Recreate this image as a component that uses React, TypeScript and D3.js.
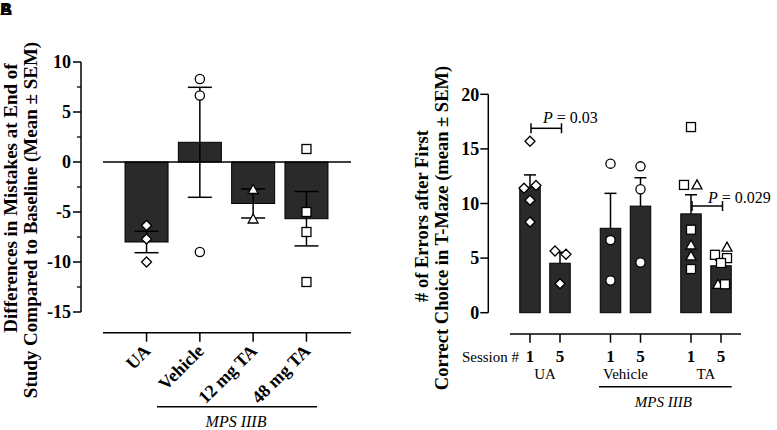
import React from "react";
import * as d3 from "d3";

// ---------- Panel B (left) data ----------
const leftCategories = ["UA", "Vehicle", "12 mg TA", "48 mg TA"];
const leftMeans = [-8.0, 1.97, -4.15, -5.67];
const leftSems = [1.07, 5.5, 1.45, 2.72];
const leftShapes = ["diamond", "circle", "triangle", "square"];
const leftPoints: number[][] = [
  [-6.35, -7.7, -10.0],
  [8.3, 6.65, -9.0],
  [-2.75, -5.7],
  [1.3, -5.0, -7.0, -12.0],
];
const leftTicks = [10, 5, 0, -5, -10, -15];
const leftMinorTicks = [7.5, 2.5, -2.5, -7.5, -12.5];

// ---------- Panel (right) data ----------
const rightGroups = ["UA", "Vehicle", "TA"];
const sessions = ["1", "5"];
const rightMeans = [
  [11.5, 4.53],
  [7.73, 9.76],
  [9.05, 4.3],
];
const rightSems = [
  [1.12, 1.0],
  [3.2, 2.6],
  [1.75, 0.5],
];
// points: [value, xOffset(px jitter as read), shape]
const rightPoints: [number, number, string][][][] = [
  [
    [[15.7, 0, "diamond"], [11.4, -6, "diamond"], [11.65, 6, "diamond"], [10.3, 0, "diamond"], [8.3, 0, "diamond"]],
    [[5.65, -5, "diamond"], [5.35, 6, "diamond"], [2.65, 0, "diamond"]],
  ],
  [
    [[13.65, 0, "circle"], [6.65, 0, "circle"], [2.95, 0, "circle"]],
    [[13.4, 0, "circle"], [11.3, 0, "circle"], [4.6, 0, "circle"]],
  ],
  [
    [[17.0, 0, "square"], [11.7, -7, "square"], [11.7, 6, "triangle"], [7.6, 0, "square"], [6.2, 0, "triangle"], [5.2, 0, "triangle"], [4.0, 0, "square"]],
    [[5.3, -6, "square"], [5.0, 6, "square"], [6.0, 6, "triangle"], [4.55, 0, "square"], [2.6, -3, "triangle"], [2.6, 4, "square"]],
  ],
];
const rightTicks = [0, 5, 10, 15, 20];

const FONT = "Liberation Serif";
const BAR = "#2a2a2a";

function Marker({ shape, x, y }: { shape: string; x: number; y: number }) {
  const common = { fill: "#fff", stroke: "#000", strokeWidth: 1.3 };
  if (shape === "circle") return <circle cx={x} cy={y} r={4.6} {...common} />;
  if (shape === "square") return <rect x={x - 4.5} y={y - 4.5} width={9} height={9} {...common} />;
  if (shape === "diamond") {
    const s = 5;
    return <path d={`M${x},${y - s}L${x + s},${y}L${x},${y + s}L${x - s},${y}Z`} {...common} />;
  }
  const s = 5;
  return <path d={`M${x},${y - s}L${x + s},${y + s * 0.8}L${x - s},${y + s * 0.8}Z`} {...common} />;
}

export default function App() {
  // Left scales
  const yL = d3.scaleLinear().domain([-15, 10]).range([312, 62]);
  const xL = d3
    .scaleBand<string>()
    .domain(leftCategories)
    .range([119.7, 333.3])
    .paddingInner(0.193)
    .paddingOuter(0.1);
  const axL = 81;

  // Right scales
  const yR = d3.scaleLinear().domain([0, 20]).range([312.7, 94.3]);
  const xG = d3.scalePoint<string>().domain(rightGroups).range([545, 706]);
  const xS = d3.scalePoint<string>().domain(sessions).range([-15, 15]);
  const axR = 488.3;
  const bwR = 20.5;
  const rc = (g: number, s: number) => (xG(rightGroups[g]) as number) + (xS(sessions[s]) as number);

  const capW = 12;
  const T = { fontFamily: FONT };

  return (
    <svg width={777} height={430} style={{ position: "absolute", left: 0, top: 0, background: "#fff", fontFamily: FONT }}>
      <rect width={777} height={430} fill="#fff" />
      {/* panel letters */}
      <text x={0} y={15} fontSize={17} fontWeight="bold" style={{ fontFamily: "Liberation Sans" }}>A</text>
      <text x={0} y={15} fontSize={17} fontWeight="bold" style={{ fontFamily: "Liberation Sans" }}>B</text>

      {/* ===== LEFT PANEL ===== */}
      <g style={T}>
        {/* y title */}
        <g transform="translate(16.5,198) rotate(-90)">
          <text textAnchor="middle" fontSize={19} fontWeight="bold" style={T}>Differences in Mistakes at End of</text>
        </g>
        <g transform="translate(37,220) rotate(-90)">
          <text textAnchor="middle" fontSize={19} fontWeight="bold" style={T}>Study Compared to Baseline (Mean ± SEM)</text>
        </g>
        {/* y axis */}
        <line x1={axL} x2={axL} y1={yL(10)} y2={yL(-15)} stroke="#000" strokeWidth={1.5} />
        {leftTicks.map((t) => (
          <g key={t}>
            <line x1={axL - 8} x2={axL} y1={yL(t)} y2={yL(t)} stroke="#000" strokeWidth={1.5} />
            <text x={axL - 10} y={yL(t)} dy="0.35em" textAnchor="end" fontSize={18} fontWeight="bold" style={T}>
              {t}
            </text>
          </g>
        ))}
        {leftMinorTicks.map((t) => (
          <line key={t} x1={axL - 4} x2={axL} y1={yL(t)} y2={yL(t)} stroke="#000" strokeWidth={1.3} />
        ))}
        {/* bars */}
        {leftCategories.map((c, i) => {
          const x0 = xL(c) as number;
          const v = leftMeans[i];
          return (
            <rect key={c} x={x0} width={xL.bandwidth()} y={yL(Math.max(0, v))} height={Math.abs(yL(v) - yL(0))} fill={BAR} stroke="#000" strokeWidth={1} />
          );
        })}
        {/* zero line */}
        <line x1={103} x2={351} y1={yL(0)} y2={yL(0)} stroke="#000" strokeWidth={1.5} />
        {/* error bars */}
        {leftCategories.map((c, i) => {
          const cx = (xL(c) as number) + xL.bandwidth() / 2;
          const hi = yL(leftMeans[i] + leftSems[i]);
          const lo = yL(leftMeans[i] - leftSems[i]);
          return (
            <g key={c} stroke="#000" strokeWidth={1.5}>
              <line x1={cx} x2={cx} y1={hi} y2={lo} />
              <line x1={cx - capW} x2={cx + capW} y1={hi} y2={hi} />
              <line x1={cx - capW} x2={cx + capW} y1={lo} y2={lo} />
            </g>
          );
        })}
        {/* points */}
        {leftCategories.map((c, i) => {
          const cx = (xL(c) as number) + xL.bandwidth() / 2;
          return leftPoints[i].map((v, j) => <Marker key={c + j} shape={leftShapes[i]} x={cx} y={yL(v)} />);
        })}
        {/* x axis */}
        <line x1={103} x2={351} y1={332.7} y2={332.7} stroke="#000" strokeWidth={1.5} />
        {leftCategories.map((c) => {
          const cx = (xL(c) as number) + xL.bandwidth() / 2;
          return (
            <g key={c}>
              <line x1={cx} x2={cx} y1={332.7} y2={341.7} stroke="#000" strokeWidth={1.5} />
              <text transform={`translate(${cx + 5},${352}) rotate(-45)`} textAnchor="end" fontSize={18} fontWeight="bold" style={T}>
                {c}
              </text>
            </g>
          );
        })}
        <line x1={157} x2={317} y1={406.7} y2={406.7} stroke="#000" strokeWidth={1.5} />
        <text x={236} y={427} textAnchor="middle" fontSize={16} fontStyle="italic" style={T}>MPS IIIB</text>
      </g>

      {/* ===== RIGHT PANEL ===== */}
      <g style={T}>
        <g transform="translate(428,216) rotate(-90)">
          <text textAnchor="middle" fontSize={18.5} fontWeight="bold" style={T}># of Errors after First</text>
        </g>
        <g transform="translate(448,228) rotate(-90)">
          <text textAnchor="middle" fontSize={18.5} fontWeight="bold" style={T}>Correct Choice in T-Maze (mean ± SEM)</text>
        </g>
        <line x1={axR} x2={axR} y1={yR(20)} y2={yR(0)} stroke="#000" strokeWidth={1.5} />
        {rightTicks.map((t) => (
          <g key={t}>
            <line x1={axR - 8} x2={axR} y1={yR(t)} y2={yR(t)} stroke="#000" strokeWidth={1.5} />
            <text x={axR - 9} y={yR(t)} dy="0.35em" textAnchor="end" fontSize={18} fontWeight="bold" style={T}>
              {t}
            </text>
          </g>
        ))}
        {rightGroups.map((g, gi) =>
          sessions.map((s, si) => {
            const cx = rc(gi, si);
            const v = rightMeans[gi][si];
            return <rect key={g + s} x={cx - bwR / 2} width={bwR} y={yR(v)} height={yR(0) - yR(v)} fill={BAR} stroke="#000" strokeWidth={1} />;
          })
        )}
        {rightGroups.map((g, gi) =>
          sessions.map((s, si) => {
            const cx = rc(gi, si);
            const top = yR(rightMeans[gi][si]);
            const hi = yR(rightMeans[gi][si] + rightSems[gi][si]);
            return (
              <g key={g + s} stroke="#000" strokeWidth={1.5}>
                <line x1={cx} x2={cx} y1={top} y2={hi} />
                <line x1={cx - 6} x2={cx + 6} y1={hi} y2={hi} />
              </g>
            );
          })
        )}
        {rightGroups.map((g, gi) =>
          sessions.map((s, si) =>
            rightPoints[gi][si].map(([v, dx, shape], k) => (
              <Marker key={g + s + k} shape={shape} x={rc(gi, si) + dx} y={yR(v)} />
            ))
          )
        )}
        {/* P brackets */}
        {[
          { g: 0, y: 128.3, label: "0.03", tx: 543, ty: 123 },
          { g: 2, y: 206, label: "0.029", tx: 708, ty: 202.5 },
        ].map((b, i) => {
          const x1 = rc(b.g, 0) + 1;
          const x2 = rc(b.g, 1) + 1.5;
          return (
            <g key={i}>
              <g stroke="#000" strokeWidth={1.5}>
                <line x1={x1} x2={x2} y1={b.y} y2={b.y} />
                <line x1={x1} x2={x1} y1={b.y - 5} y2={b.y + 5} />
                <line x1={x2} x2={x2} y1={b.y - 5} y2={b.y + 5} />
              </g>
              <text x={b.tx} y={b.ty} fontSize={16} style={T}>
                <tspan fontStyle="italic">P</tspan> = {b.label}
              </text>
            </g>
          );
        })}
        {/* x axis */}
        <line x1={510} x2={741} y1={334} y2={334} stroke="#000" strokeWidth={1.5} />
        {rightGroups.map((g, gi) =>
          sessions.map((s, si) => (
            <g key={g + s}>
              <line x1={rc(gi, si)} x2={rc(gi, si)} y1={334} y2={342.7} stroke="#000" strokeWidth={1.5} />
              <text x={rc(gi, si)} y={361.5} textAnchor="middle" fontSize={17} fontWeight="bold" style={T}>
                {s}
              </text>
            </g>
          ))
        )}
        <text x={519} y={361.5} textAnchor="end" fontSize={15} style={T}>Session #</text>
        {rightGroups.map((g) => (
          <text key={g} x={xG(g) as number} y={379} textAnchor="middle" fontSize={15} style={T}>
            {g}
          </text>
        ))}
        <line x1={599} x2={731.7} y1={386.7} y2={386.7} stroke="#000" strokeWidth={1.5} />
        <text x={663.3} y={407} textAnchor="middle" fontSize={15} fontStyle="italic" style={T}>MPS IIIB</text>
      </g>
    </svg>
  );
}
